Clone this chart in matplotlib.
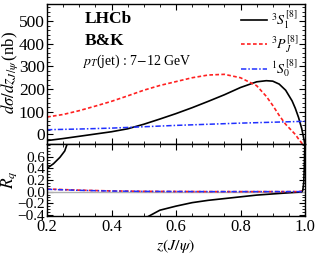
import numpy as np
import matplotlib
matplotlib.use("Agg")
import matplotlib.pyplot as plt
from matplotlib.ticker import MultipleLocator

plt.rcParams['font.family'] = ['Liberation Serif', 'DejaVu Serif']
plt.rcParams['mathtext.fontset'] = 'stix'

# ---- data ----
z_top = [0.2, 0.25, 0.3, 0.35, 0.4, 0.45, 0.5, 0.55, 0.6, 0.65, 0.7, 0.75,
         0.8, 0.85, 0.88, 0.9, 0.92, 0.94, 0.96, 0.97, 0.98, 0.99, 1.0]
s3s1 = [-27, -18, -8, 2, 12, 25, 45, 68, 92, 118, 146, 175,
        207, 232, 237, 235, 222, 195, 148, 115, 75, 25, -45]
s3pj = [77, 88, 105, 125, 146, 170, 195, 216, 233, 250, 262, 265,
        250, 215, 168, 128, 84, 45, 15, 0, -20, -38, -60]
z_blue = [0.2, 0.3, 0.4, 0.5, 0.6, 0.7, 0.8, 0.9, 1.0]
s1s0 = [21, 24, 28, 34, 40, 45, 50, 54, 58]

z_r1 = [0.2, 0.22, 0.24, 0.255, 0.265]
r_black1 = [0.40, 0.48, 0.59, 0.70, 0.86]
z_r2 = [0.51, 0.55, 0.6, 0.65, 0.7, 0.75, 0.8, 0.85, 0.9, 0.95, 0.98, 0.99]
r_black2 = [-0.44, -0.32, -0.25, -0.19, -0.15, -0.12, -0.09, -0.06, -0.04, -0.02, -0.01, 0.0]
z_r3 = [0.99, 0.993, 0.996, 0.998, 0.9995]
r_black3 = [0.0, 0.02, 0.15, 0.45, 0.86]
z_rc = [0.2, 0.3, 0.4, 0.5, 0.7, 0.9, 0.98, 0.99]
r_red = [0.045, 0.025, 0.012, 0.005, 0.0, 0.0, 0.0, 0.01]
r_blue = [0.04, 0.022, 0.01, 0.004, 0.0, 0.0, 0.0, 0.0]

labels = [r'$^3S_1^{[8]}$', r'$^3P_J^{[8]}$', r'$^1S_0^{[8]}$']

fig = plt.figure(figsize=(3.17, 2.54), dpi=100)
L, R = 47/317, 305/317
ax1 = fig.add_axes([L, 1-144/254, R-L, 140/254])
ax2 = fig.add_axes([L, 1-216/254, R-L, 72/254], sharex=ax1)

red_dash = (0, (2.2, 1.4))
bl_dd = (0, (3.5, 1.3, 1, 1.3))

ax1.plot(z_top, s3s1, color='black', lw=1.2, label=labels[0])
ax1.plot(z_top, s3pj, color='#ff2020', lw=1.2, ls=red_dash, label=labels[1])
ax1.plot(z_blue, s1s0, color='#2030ff', lw=1.1, ls=bl_dd, label=labels[2])
ax1.set_xlim(0.2, 1.0)
ax1.set_ylim(-42, 575)
ax1.set_yticks([0, 100, 200, 300, 400, 500])
ax1.yaxis.set_minor_locator(MultipleLocator(20))
ax1.tick_params(labelbottom=False)
fig.text(10/317, 1-72/254, r'$d\sigma/dz_{J/\psi}\,$(nb)', fontsize=12, rotation=90,
         ha='center', va='center')

ax1.text(0.145, 0.865, 'LHCb', transform=ax1.transAxes, fontsize=12.5, fontweight='bold')
ax1.text(0.145, 0.71, 'B&K', transform=ax1.transAxes, fontsize=12.5, fontweight='bold')
ax1.text(0.135, 0.565, r'$p_T$(jet) : 7$-$12 GeV', transform=ax1.transAxes, fontsize=10)

leg = ax1.legend(loc='upper right', bbox_to_anchor=(1.0, 1.01), frameon=False, fontsize=10,
                 handlelength=1.9, handletextpad=0.3, labelspacing=0.2, borderaxespad=0.0)

ax2.axhline(0, color='#b0b0b0', lw=1.0)
ax2.plot(z_r1, r_black1, color='black', lw=1.2)
ax2.plot(z_r2, r_black2, color='black', lw=1.2)
ax2.plot(z_r3, r_black3, color='black', lw=1.2)
ax2.plot(z_rc, r_red, color='#ff2020', lw=1.2, ls=red_dash)
ax2.plot(z_rc, r_blue, color='#2030ff', lw=1.1, ls=bl_dd)
ax2.set_ylim(-0.42, 0.82)
ax2.set_yticks([-0.4, -0.2, 0.0, 0.2, 0.4, 0.6])
ax2.set_yticklabels(['−0.4', '−0.2', '0.0', '0.2', '0.4', '0.6'])
ax2.yaxis.set_minor_locator(MultipleLocator(0.05))
ax2.set_xticks([0.2, 0.4, 0.6, 0.8, 1.0])
ax2.set_xticklabels(['0.2', '0.4', '0.6', '0.8', '1.0'])
ax2.xaxis.set_minor_locator(MultipleLocator(0.05))
fig.text(9/317, 1-180/254, r'$R_q$', fontsize=12.5, rotation=90, ha='center', va='center')
fig.text(176/317, 1-246/254, r'$z(J/\psi)$', fontsize=11.5, ha='center', va='center')

for ax in (ax1, ax2):
    ax.tick_params(which='both', direction='in', top=True, right=True, labelsize=12.5, pad=1.5)
    ax.tick_params(which='major', length=4, width=0.8)
    ax.tick_params(which='minor', length=2, width=0.6)
    for s in ax.spines.values():
        s.set_linewidth(1.0)
ax2.tick_params(axis='y', labelsize=11)
ax2.tick_params(axis='x', labelsize=12, pad=2.5)

fig.savefig('out.png', dpi=100)
